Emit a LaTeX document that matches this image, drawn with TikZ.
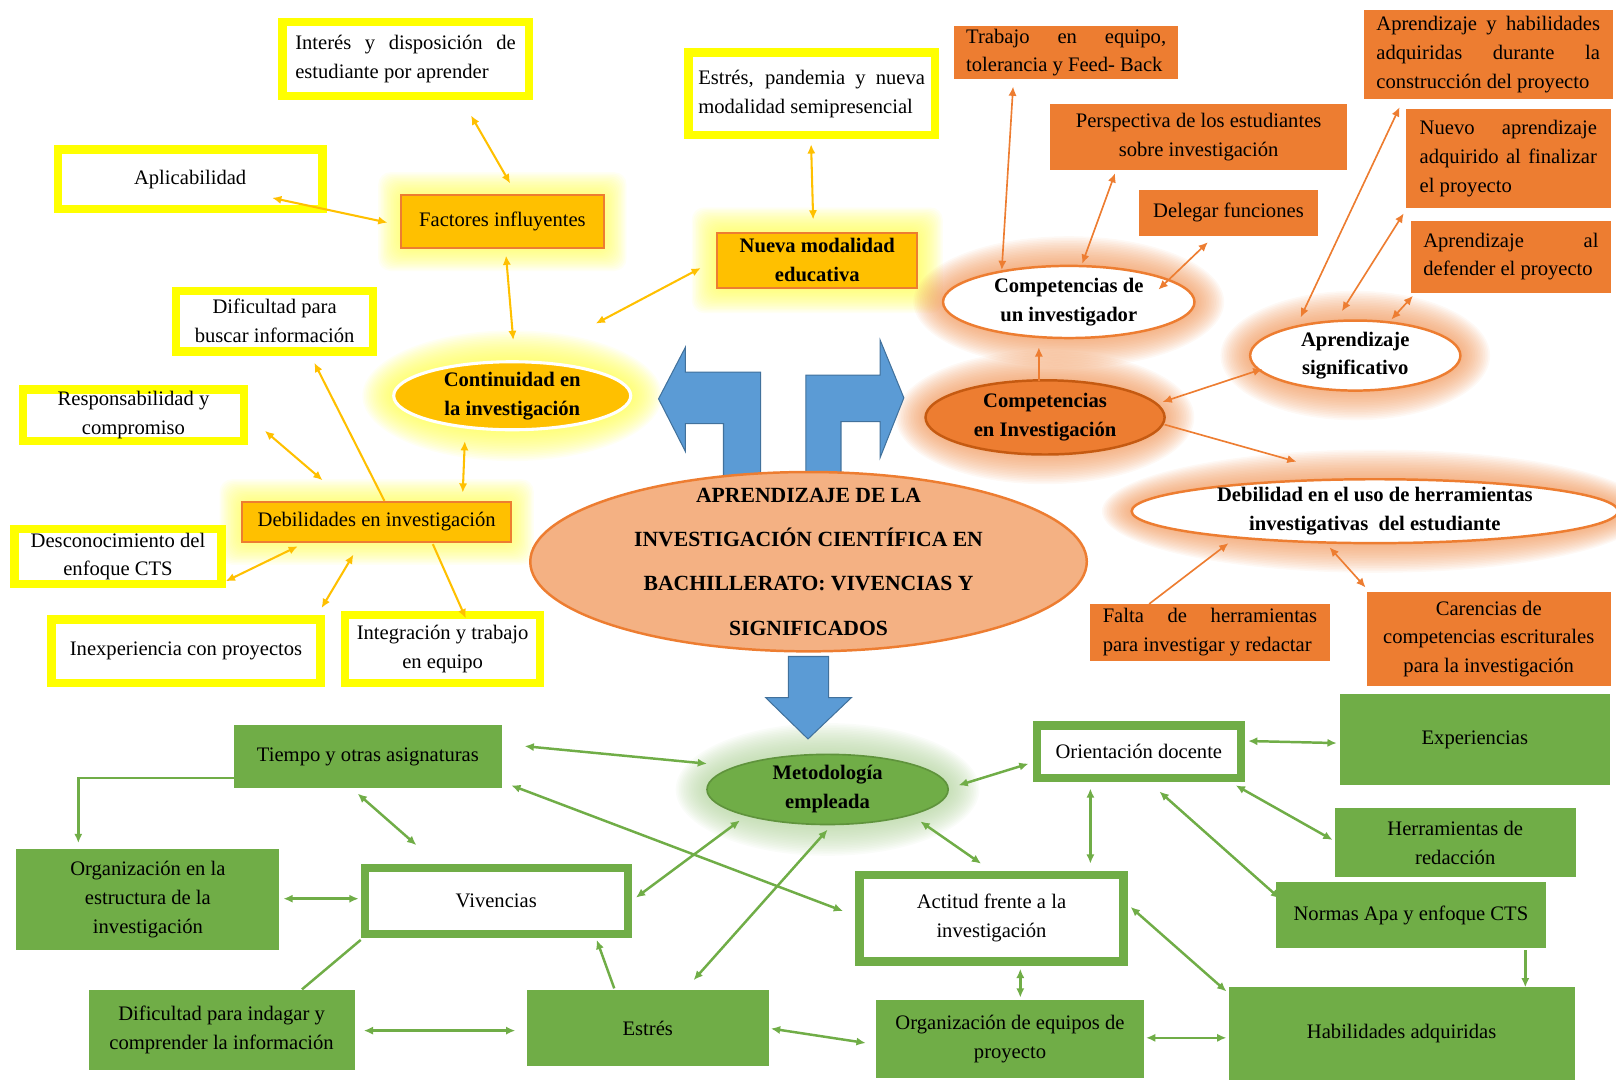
\documentclass[tikz,border=0pt]{standalone}
\usepackage{fontspec}
\setmainfont{Liberation Serif}
\usetikzlibrary{arrows.meta,shapes.geometric,calc}
\definecolor{gold}{HTML}{FFC000}
\definecolor{ora}{HTML}{ED7D31}
\definecolor{oradk}{HTML}{C55A11}
\definecolor{yel}{HTML}{FFFF00}
\definecolor{grn}{HTML}{70AD47}
\definecolor{salm}{HTML}{F4B183}
\definecolor{blu}{HTML}{5B9BD5}
\definecolor{bludk}{HTML}{41719C}
\newcommand\rbox[7]{\node[#6, minimum width={((#4)-(#2))*0.5pt}, minimum height={((#5)-(#3))*0.5pt}] (#1) at ({((#2)+(#4))/2},{((#3)+(#5))/2}) {#7};}
\newcommand\cn[5]{\draw[#1] ([shift={(#3)}]#2.center) -- ([shift={(#5)}]#4.center);}
\newcommand\gle[6]{\foreach \g in {1,...,#6}{\fill[#5,opacity=0.06] (#1,#2) ellipse [x radius={#3+\g*1.6}, y radius={#4+\g*1.6}];}}
\newcommand\glr[6]{\foreach \g in {1,...,#6}{\fill[#5,opacity=0.06,rounded corners=6pt] ({#1-\g*1.4},{#2-\g*1.4}) rectangle ({#3+\g*1.4},{#4+\g*1.4});}}
\tikzset{
 base/.style={font=\fontsize{10}{14}\selectfont, inner sep=0pt, outer sep=0pt},
 bt/.style={base, font=\fontsize{10}{14}\selectfont\bfseries, align=center},
 ybox/.style={base, draw=yel, line width=4pt, fill=white},
 gbox/.style={base, draw=ora, line width=1pt, fill=gold},
 obox/.style={base, fill=ora},
 grbox/.style={base, fill=grn},
 gwbox/.style={base, draw=grn, line width=4pt, fill=white},
 oell/.style={ellipse, draw=ora, line width=1.2pt, fill=white, inner sep=0pt},
 blarrow/.style={fill=blu, draw=bludk, line width=0.5pt},
 ya/.style={draw=gold, line width=1pt},
 oa/.style={draw=ora, line width=0.8pt},
 ga/.style={draw=grn, line width=1.2pt}
}
\begin{document}
\begin{tikzpicture}[x=0.5pt,y=-0.5pt,>={Latex[length=4.5pt,width=4pt]}]
\useasboundingbox (0,0) rectangle (1568,1048);
% glows
\glr{388}{188}{587}{242}{yel!75}{15}
\glr{695}{225}{891}{280}{yel!75}{17}
\glr{234}{486}{497}{527}{yel!75}{15}
\gle{497}{384}{115}{33}{yel!75}{19}
\gle{1037}{293}{122}{35}{ora!85}{18}
\gle{1014}{405}{116}{36}{ora!85}{18}
\gle{1315}{345}{102}{34}{ora!85}{18}
\gle{1334}{496}{236}{31}{ora!85}{18}
\gle{803}{766}{117}{34}{grn!55}{19}
% blue arrows
\filldraw[blarrow] (639,387) -- (665,337) -- (665,361) -- (738,361) -- (738,483) -- (702,483) -- (702,411) -- (665,411) -- (665,438) -- cycle;
\filldraw[blarrow] (782,483) -- (782,364) -- (854,364) -- (854,330) -- (877,386) -- (854,444) -- (854,409) -- (816,409) -- (816,483) -- cycle;
\filldraw[blarrow] (765,637) -- (804,637) -- (804,677) -- (826,677) -- (784,717) -- (743,677) -- (765,677) -- cycle;
% yellow boxes
\rbox{intr}{274}{21}{513}{93}{ybox,text width=107pt,align=justify}{Interés y disposición de\linebreak estudiante por aprender}
\rbox{apli}{56}{145}{313}{203}{ybox}{Aplicabilidad}
\rbox{estr}{668}{51}{907}{131}{ybox,text width=110pt,align=justify}{Estrés, pandemia y nueva\linebreak modalidad semipresencial}
\rbox{difb}{171}{282}{362}{341}{ybox,align=center}{Dificultad para\\buscar información}
\rbox{resp}{22}{378}{237}{428}{ybox,align=center}{Responsabilidad y\\compromiso}
\rbox{desc}{14}{513}{215}{567}{ybox,align=center}{Desconocimiento del\\enfoque CTS}
\rbox{inex}{50}{601}{311}{663}{ybox}{Inexperiencia con proyectos}
\rbox{intg}{335}{597}{524}{663}{ybox,align=center}{Integración y trabajo\\en equipo}
% gold nodes
\rbox{fact}{389}{189}{586}{241}{gbox}{Factores influyentes}
\rbox{nuev}{696}{226}{890}{279}{gbox,align=center,font=\fontsize{10}{14}\selectfont\bfseries}{Nueva modalidad\\educativa}
\rbox{debs}{235}{487}{496}{526}{gbox}{Debilidades en investigación}
\node[ellipse, fill=gold, draw=white, line width=1.5pt, minimum width=115pt, minimum height=33pt, inner sep=0pt] (cont) at (497,384) {};
\node[bt] (contT) at (cont) {Continuidad en\\la investigación};
% orange boxes
\rbox{trab}{926}{25}{1143}{77}{obox,text width=97pt,align=justify}{Trabajo en equipo,\linebreak tolerancia y Feed- Back}
\rbox{pers}{1019}{101}{1307}{165}{obox,align=center}{Perspectiva de los estudiantes\\sobre investigación}
\rbox{dele}{1105}{184}{1279}{229}{obox}{Delegar funciones}
\rbox{aphb}{1323}{10}{1565}{96}{obox,text width=108.5pt,align=justify}{Aprendizaje y habilidades\linebreak adquiridas durante la\linebreak construcción del proyecto}
\rbox{nvap}{1364}{106}{1563}{202}{obox,text width=86pt,align=justify}{Nuevo aprendizaje\linebreak adquirido al finalizar\linebreak el proyecto}
\rbox{apdf}{1369}{214}{1563}{284}{obox,text width=85pt,align=justify}{Aprendizaje al\linebreak defender el proyecto}
\rbox{falt}{1058}{586}{1290}{641}{obox,text width=104pt,align=justify}{Falta de herramientas\linebreak para investigar y redactar}
\rbox{care}{1326}{574}{1563}{666}{obox,align=center}{Carencias de\\competencias escriturales\\para la investigación}
% orange ellipses
\node[oell, minimum width=122pt, minimum height=35pt] (cinv) at (1037,293) {};
\node[bt] (cinvT) at (cinv) {Competencias de\\un investigador};
\node[ellipse, fill=ora, draw=oradk, line width=1.2pt, minimum width=116pt, minimum height=36pt, inner sep=0pt] (cein) at (1014,405) {};
\node[bt] (ceinT) at (cein) {Competencias\\en Investigación};
\node[oell, minimum width=102pt, minimum height=34pt] (apsg) at (1315,345) {};
\node[bt] (apsgT) at (apsg) {Aprendizaje\\significativo};
\node[oell, minimum width=236pt, minimum height=31pt] (dbus) at (1334,496) {};
\node[bt] (dbusT) at (dbus) {Debilidad en el uso de herramientas\\investigativas\ \ del estudiante};
% central
\node[ellipse, fill=salm, draw=ora, line width=1.2pt, minimum width=270pt, minimum height=87pt, inner sep=0pt] (titl) at (784.5,545) {};
\node[base, font=\fontsize{10.5}{21.5}\selectfont\bfseries, align=center] (titlT) at (titl) {APRENDIZAJE DE LA\\INVESTIGACIÓN CIENTÍFICA EN\\BACHILLERATO: VIVENCIAS Y\\SIGNIFICADOS};
% green
\rbox{tiem}{227}{703}{487}{765}{grbox}{Tiempo y otras asignaturas}
\rbox{orgs}{16}{824}{271}{922}{grbox,align=center}{Organización en la\\estructura de la\\investigación}
\rbox{vivs}{354}{842}{609}{906}{gwbox}{Vivencias}
\rbox{difi}{86}{961}{344}{1038}{grbox,align=center}{Dificultad para indagar y\\comprender la información}
\rbox{estg}{511}{961}{746}{1034}{grbox}{Estrés}
\node[ellipse, fill=grn, draw=grn!85!black, line width=0.8pt, minimum width=117pt, minimum height=34pt, inner sep=0pt] (meto) at (803,766) {};
\node[bt] (metoT) at (meto) {Metodología\\empleada};
\rbox{orie}{1006}{704}{1204}{755}{gwbox}{Orientación docente}
\rbox{acti}{834}{849}{1090}{933}{gwbox,align=center}{Actitud frente a la\\investigación}
\rbox{orge}{850}{970}{1110}{1046}{grbox,align=center}{Organización de equipos de\\proyecto}
\rbox{expe}{1300}{673}{1562}{762}{grbox}{Experiencias}
\rbox{herr}{1295}{784}{1529}{851}{grbox,align=center}{Herramientas de\\redacción}
\rbox{norm}{1238}{856}{1500}{920}{grbox}{Normas Apa y enfoque CTS}
\rbox{habi}{1192}{958}{1528}{1048}{grbox}{Habilidades adquiridas}
% yellow connectors
\cn{ya,<->}{intr}{63.5,55}{fact}{7.5,-37}
\cn{ya,<->}{apli}{79.5,18}{fact}{-111.5,1}
\cn{ya,<->}{fact}{3.5,33}{cont}{1,-54}
\cn{ya,<->}{estr}{-0.5,49}{nuev}{-4,-39.5}
\cn{ya,<->}{cont}{81,-70}{nuev}{-113,7.5}
\cn{ya,<->}{cont}{-46,44}{debs}{83.5,-28.5}
\cn{ya,->}{debs}{7.5,-20.5}{difb}{38.5,40.5}
\cn{ya,<->}{resp}{127.5,15}{debs}{-52.5,-40.5}
\cn{ya,<->}{desc}{104.5,24}{debs}{-76.5,23.5}
\cn{ya,<->}{inex}{131.5,-42}{debs}{-22.5,31.5}
\cn{ya,->}{debs}{54.5,21.5}{intg}{22.5,-30}
% orange connectors
\cn{oa,<->}{trab}{-51.5,33}{cinv}{-65,-31}
\cn{oa,<->}{pers}{-81,35}{cinv}{13,-37}
\cn{oa,<->}{dele}{-20,28.5}{cinv}{87,-12}
\cn{oa,->}{cein}{-6,-35}{cinv}{-29,44}
\cn{oa,<->}{cein}{114,-15}{apsg}{-90,13}
\cn{oa,->}{cein}{116,7}{dbus}{-76,-48}
\cn{oa,<->}{aphb}{-86,51}{apsg}{-53,-37}
\cn{oa,<->}{nvap}{-101.5,53}{apsg}{-13,-43}
\cn{oa,<->}{apdf}{-95,38}{apsg}{35,-35}
\cn{oa,->}{falt}{-59,-27.5}{dbus}{-142,31}
\cn{oa,<->}{dbus}{-44,35}{care}{-119.5,-50}
% green connectors
\cn{ga,<->}{tiem}{152,-10}{meto}{-117,-25}
\cn{ga,<->}{tiem}{139,28}{acti}{-144,-7}
\cn{ga,<->}{tiem}{-10,36}{vivs}{-77.5,-54}
\draw[ga,->] ([shift={(-130,21)}]tiem.center) -| ([shift={(-67.5,-55)}]orgs.center);
\cn{ga,<->}{orgs}{131.5,-1}{vivs}{-133.5,-2}
\cn{ga}{vivs}{-131.5,38}{difi}{78,-39.5}
\cn{ga,<->}{difi}{138,0.5}{estg}{-128.5,2.5}
\cn{ga,<->}{vivs}{135.5,-3}{meto}{-85,30}
\cn{ga,<->}{estg}{44.5,-46.5}{meto}{0,39}
\cn{ga,->}{estg}{-32.5,-38.5}{vivs}{97.5,38}
\cn{ga,<->}{estg}{119.5,0.5}{orge}{-140,4}
\cn{ga,<->}{meto}{90,31}{acti}{-10,-53}
\cn{ga,<->}{meto}{127,-4}{orie}{-107,11.5}
\cn{ga,<->}{orie}{-47,35.5}{acti}{96,-53}
\cn{ga,<->}{acti}{28,49}{orge}{10,-40}
\cn{ga,<->}{orie}{106,-10.5}{expe}{-134,3.5}
\cn{ga,<->}{orie}{94,32.5}{herr}{-119,-2.5}
\cn{ga,<->}{orie}{20,38.5}{norm}{-127,-16}
\cn{ga,<->}{acti}{135,-11}{habi}{-170,-41}
\cn{ga,<->}{orge}{132,-1}{habi}{-170,4}
\cn{ga,->}{norm}{111,34}{habi}{120,-45}
\end{tikzpicture}
\end{document}
